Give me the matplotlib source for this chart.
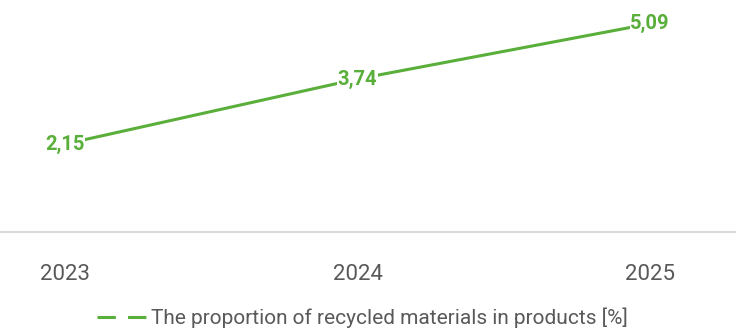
import matplotlib
matplotlib.use("Agg")
import matplotlib.pyplot as plt
from matplotlib.lines import Line2D

years = ["2023", "2024", "2025"]
values = [2.15, 3.74, 5.09]
value_labels = ["2,15", "3,74", "5,09"]
series_name = "The proportion of recycled materials in products [%]"

green = "#5aaf3a"
gray = "#595959"

fig = plt.figure(figsize=(7.36, 3.28), dpi=100)
ax = fig.add_axes([0, 1 - 232/328, 1, 232/328])
x = list(range(len(years)))
ax.plot(x, values, color=green, linewidth=2.2, zorder=2)
for xi, v, lab in zip(x, values, value_labels):
    ax.text(xi, v, lab, ha="center", va="center", color=green, fontsize=14.5,
            fontweight="bold", family=["Roboto", "DejaVu Sans"],
            bbox=dict(facecolor="white", edgecolor="none", pad=0.5), zorder=3)
ax.set_xlim(-65/292.5, 2 + 86/292.5)
ax.set_ylim(0, 5.67)
for s in ["top", "left", "right"]:
    ax.spines[s].set_visible(False)
ax.spines["bottom"].set_color("#d9d9d9")
ax.spines["bottom"].set_linewidth(1.5)
ax.set_yticks([])
ax.set_xticks(x)
ax.set_xticklabels(years, color=gray, fontsize=16, family=["Liberation Sans Narrow", "Roboto", "DejaVu Sans"])
ax.tick_params(axis="x", length=0, pad=23)

fs = 15
handle = Line2D([0], [0], color=green, linewidth=2.2, linestyle=(0, (6, 4)))
fig.legend([handle], [series_name], loc="center", bbox_to_anchor=(0.493, 1 - 318/328),
           frameon=False, labelcolor=gray, handlelength=(2.2 * 16) / fs, handletextpad=0.25,
           prop={"family": ["Roboto", "DejaVu Sans"], "size": fs})

fig.savefig("out.png", dpi=100)
